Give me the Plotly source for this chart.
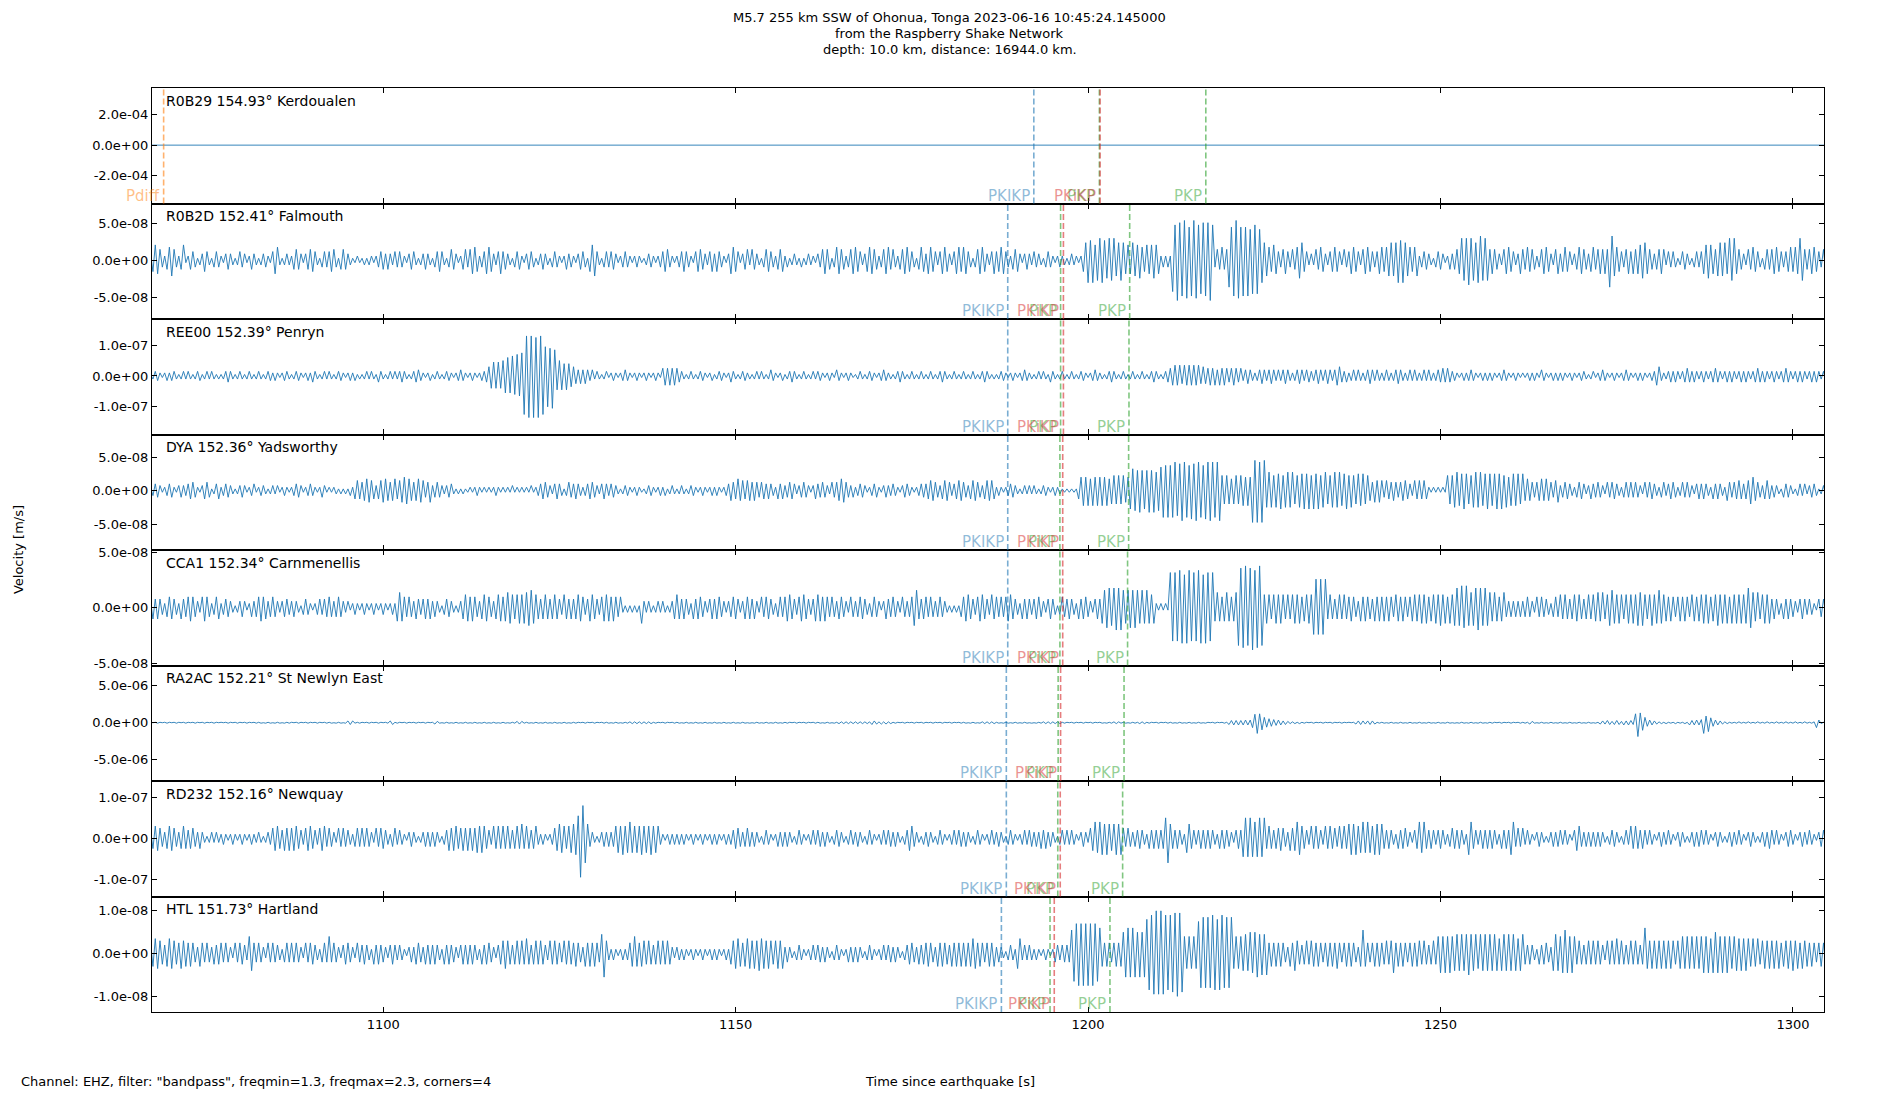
import plotly.graph_objects as go
from plotly.subplots import make_subplots

# textos
title_lines = ["M5.7 255 km SSW of Ohonua, Tonga 2023-06-16 10:45:24.145000",
               "from the Raspberry Shake Network",
               "depth: 10.0 km, distance: 16944.0 km."]
footer_text = 'Channel: EHZ, filter: "bandpass", freqmin=1.3, freqmax=2.3, corners=4'
x_title = "Time since earthquake [s]"
y_title = "Velocity [m/s]"

# estacoes
stations = ["R0B29", "R0B2D", "REE00", "DYA", "CCA1", "RA2AC", "RD232", "HTL"]
distances = [154.93, 152.41, 152.39, 152.36, 152.34, 152.21, 152.16, 151.73]
places = ["Kerdoualen", "Falmouth", "Penryn", "Yadsworthy", "Carnmenellis",
          "St Newlyn East", "Newquay", "Hartland"]

y_ranges = [[-3.84e-4, 3.76e-4], [-7.9e-8, 7.69e-8], [-1.9e-7, 1.85e-7],
            [-8.86e-8, 8.36e-8], [-5.21e-8, 5.24e-8], [-7.85e-6, 7.71e-6],
            [-1.42e-7, 1.40e-7], [-1.366e-8, 1.335e-8]]
y_tick_vals = [[-2e-4, 0, 2e-4], [-5e-8, 0, 5e-8], [-1e-7, 0, 1e-7], [-5e-8, 0, 5e-8],
               [-5e-8, 0, 5e-8], [-5e-6, 0, 5e-6], [-1e-7, 0, 1e-7], [-1e-8, 0, 1e-8]]
y_tick_text = [["-2.0e-04", "0.0e+00", "2.0e-04"], ["-5.0e-08", "0.0e+00", "5.0e-08"],
               ["-1.0e-07", "0.0e+00", "1.0e-07"], ["-5.0e-08", "0.0e+00", "5.0e-08"],
               ["-5.0e-08", "0.0e+00", "5.0e-08"], ["-5.0e-06", "0.0e+00", "5.0e-06"],
               ["-1.0e-07", "0.0e+00", "1.0e-07"], ["-1.0e-08", "0.0e+00", "1.0e-08"]]

x_ticks = [1100, 1150, 1200, 1250, 1300]
x_range = [1067.2, 1304.4]

# chegadas das fases [s]
pkikp = [1192.3, 1188.6, 1188.6, 1188.6, 1188.6, 1188.4, 1188.4, 1187.7]
pkp_1 = [1201.6, 1196.1, 1196.1, 1196.0, 1196.0, 1195.75, 1195.7, 1194.6]
pkikp_refl = [1201.7, 1196.5, 1196.5, 1196.4, 1196.4, 1196.1, 1196.05, 1195.2]
pkp_2 = [1216.7, 1205.9, 1205.8, 1205.75, 1205.6, 1205.1, 1204.9, 1203.1]
pdiff = 1068.85

# sismogramas: amplitude de cada meio ciclo (base 36), 5 s por bloco a partir de t0
t0 = 1067.0
seg_len = 5.0
units = [0, 0.3e-8, 0.05e-7, 0.25e-8, 0.2e-8, 0.06e-6, 0.05e-7, 0.05e-8]

r0b29_t = [1067.0, 1307.0]
r0b29_v = [0.0, 0.0]

r0b2d = ["357653246753247", "124431235421343", "213432124331243", "212332146621232",
         "245431345542134", "345531454321121", "121221234434324", "343213442123432",
         "134542135431245", "356652346653246", "443213442134431", "234321343212433",
         "213443157742134", "344312343212321", "123321234553212", "345432145543245",
         "354321366541345", "254321355432455", "231232131232213", "356541366542356",
         "654235665423566", "453245665431465", "366542466532466", "566431356653246",
         "456643245531343", "243321343212322", "123221258a9a79a", "a98a9a789867687",
         "786576787623232", "egihgihfgihgfhg", "hig354645cfgihf", "gfgefgfea876576",
         "435643546885423", "254653245654253", "466542566543466", "567878a9a876567",
         "234432134431243", "456a9aba98ab9a9", "565432566542365", "465542356653256",
         "356542346654356", "456565cb7654356", "465678865434565", "243431244321343",
         "467876578786a9a", "654325465431454", "566543456566a95", "456654356654365"]

ree00 = ["123321232332123", "232123312323212", "123432123212321", "232123323212332",
         "123321232432123", "232123321232312", "123232143212323", "234321234432123",
         "123212332123432", "123212334689898", "abcbdcedfpqrqrp", "rqpjkilh9a98987",
         "654545434232123", "123212343212321", "232123215656565", "432123212332123",
         "123321243212332", "212323212432123", "123432123212323", "321232143212321",
         "123212332123432", "212343212321232", "123212343212321", "232123212343212",
         "123321232123432", "212323214321232", "123212332123432", "212343212321232",
         "123212343212345", "676757676767565", "565646565456545", "345432345434543",
         "434543234543443", "345434543466434", "234343234543432", "343234543234343",
         "234343234454543", "321232343212323", "232123432123212", "123232143212323",
         "232123212332123", "123432123212343", "212323212336632", "234343234543432",
         "343234543234343", "234343234543432", "343234543234343", "234343234343432"]

dya = ["234431234421343", "345542135541245", "234432123431234", "123321232312321",
       "234431234321243", "121221212132565", "567765356776567", "567887656776457",
       "345432344212121", "121232121212321", "212131212121312", "345543245431354",
       "454323455432454", "344321233212321", "123321232312321", "232123321232123",
       "232123465576656", "656545545432545", "345542345431354", "454325456775434",
       "234431234421343", "343213443212344", "456654356653456", "654356654356665",
       "232123443212323", "232123321232211", "111115898979898", "989789898978bdc",
       "cdcbcdcdbcegfgf", "ghfgihgfhgihgfh", "hihghi989878989", "9898jijhjiaba9a",
       "ab9abab89aabab9", "bab9ab89abab9ab", "9a98a9a89657676", "465565456654365",
       "656521212121989", "ab9aba89abab9ab", "a9abab9a89a9a8a", "676545676765467",
       "345543245542354", "454325455432454", "545432545543245", "345542354543245",
       "454325454326545", "565456886543565", "343214443213434", "234431234421343"]

cca1 = ["354543245543254", "456543256542355", "234432123431243", "456553454323443",
        "343213432123434", "454345432312321", "232123212321232", "676545435434545",
        "343213443212356", "656543566543566", "567765676778876", "545654565436545",
        "456653466543566", "656545212121217", "323212323212356", "545432545543245",
        "455432345542355", "545325455432454", "566543566543466", "656545435543254",
        "345543245431354", "454325434588545", "545434543212121", "456654356654365",
        "545456654325454", "345543245431354", "454325455432454", "789989a9a878989",
        "87878767212121g", "fgfhgfghfgfhgfg", "gfg6765676567hi", "ijhijhijh676567",
        "676565676756676", "cdcdcd565456565", "565436565546565", "656546656545666",
        "676756676867576", "898a9a8789a9898", "767656743434343", "454325454432454",
        "656545666545656", "676756887676567", "676878656867876", "656545656546656",
        "676756686767576", "767679976756767", "454325454432454", "343214443213434"]

ra2ac = ["101110111011101", "110111011101110", "101110111011101", "111011101110111",
         "101110111011101", "111011101444111", "101110111011441", "110111011101110",
         "133101110111011", "101110111011101", "110111333111011", "101110111011101",
         "111011101110111", "101110111222222", "222211101110111", "101110111011101",
         "110111011101110", "101110111011101", "111011101110111", "101110112222222",
         "222222244323232", "211101110111011", "101110111011101", "111011101222222",
         "110111011101110", "101112222222211", "101110111011101", "101112221110111",
         "122211101110111", "101110111011101", "101110111455555", "5656bjokgca9876",
         "654432221211101", "110111011101110", "101344434443111", "101110111011101",
         "110111011101110", "101110111011101", "111011101110111", "113310111011101",
         "110111011101110", "113435434543545", "54kvmhc86543221", "211121112155565",
         "7ofkb8654322111", "121112111211121", "112111211121112", "1112b6211121112"]

rd232 = ["456654356654356", "545543532123232", "232123212321232", "232123356654656",
         "566543566543566", "454325454432454", "545432545543245", "343213432123434",
         "343213465665565", "656576765436565", "656545657565456", "323212356776567",
         "78bjgc743212343", "434676867876768", "676867632123232", "323212321232123",
         "232123234554345", "434321343212434", "343213432123434", "434321344321343",
         "343213432123434", "434321346643213", "343213432123434", "434321343212343",
         "343213432123434", "434354534321343", "434321343256878", "878767878545434",
         "454325454545ac7", "545432775434545", "454325454432454", "9a9a989a9a56545",
         "565436568865436", "565436565546565", "787867878768787", "545432545543245",
         "878545434543245", "545432885434545", "454325454884545", "343213432123434",
         "434321466434343", "434321344321343", "656545434321343", "343213432123434",
         "434321343212343", "343213432123435", "434321344321343", "343213443212343"]

htl = ["567765467765576", "656543654543545", "545432545543885", "454325454432454",
       "545432545543245", "484543245543254", "454325454432454", "343213435543545",
       "454325454432454", "545432545543245", "676545656575456", "565436565546565",
       "5654365656549b6", "323212323568656", "656545656565323", "323212321232123",
       "232123256776567", "767687767656767", "343213432123434", "434321343212434",
       "343213432123434", "434321345543545", "565436565546565", "656567756545656",
       "343213432773434", "323212321244344", "44bdefefefefedc", "656545656abcbcb",
       "ababghijkjkjihi", "ijkji878787fghg", "hgihghighgh7878", "898a9ab9a9a5656",
       "565436586545656", "656545656575456", "565436b65456565", "565695656545656",
       "656545658989898", "898989a98979898", "989878989898789", "545432545543898",
       "89b989856545656", "565436565756545", "656545c76767676", "767656787878787",
       "898979a98989878", "878787676756767", "676756676867576", "656545656545656"]

waves = [None, r0b2d, ree00, dya, cca1, ra2ac, rd232, htl]


def decode(segs, unit):
    t, v = [], []
    sign = 1
    for k, seg in enumerate(segs):
        dt = seg_len / len(seg)
        for i, c in enumerate(seg):
            t.append(t0 + k * seg_len + i * dt)
            v.append(sign * int(c, 36) * unit)
            sign = -sign
    return t, v


font = "DejaVu Sans"
trace_color = "#1f77b4"
phase_colors = {"PKIKP": "rgba(31,119,180,0.6)", "PKiKP": "rgba(214,39,40,0.6)",
                "PKP": "rgba(44,160,44,0.6)", "Pdiff": "rgba(255,127,14,0.6)"}
label_colors = {"PKIKP": "rgba(31,119,180,0.5)", "PKiKP": "rgba(214,39,40,0.5)",
                "PKP": "rgba(44,160,44,0.5)", "Pdiff": "rgba(255,127,14,0.5)"}

n = len(stations)
fig = make_subplots(rows=n, cols=1, shared_xaxes=True, vertical_spacing=0)

for r in range(n):
    if waves[r] is None:
        t, v = r0b29_t, r0b29_v
    else:
        t, v = decode(waves[r], units[r])
    fig.add_trace(go.Scatter(x=t, y=v, mode="lines", line=dict(color=trace_color, width=0.9),
                             showlegend=False, hoverinfo="skip"), row=r + 1, col=1)

    ax = "" if r == 0 else str(r + 1)
    phases = [("PKIKP", pkikp[r]), ("PKP", pkp_1[r]), ("PKiKP", pkikp_refl[r]), ("PKP", pkp_2[r])]
    if r == 0:
        phases = [("Pdiff", pdiff)] + phases
    for name, tp in phases:
        fig.add_shape(type="line", xref="x" + ax, yref="y" + ax + " domain",
                      x0=tp, x1=tp, y0=0, y1=1,
                      line=dict(color=phase_colors[name], width=1.6, dash="6px,3px"))
        fig.add_annotation(x=tp, y=0, xref="x" + ax, yref="y" + ax + " domain",
                           text=name, showarrow=False, xanchor="right", yanchor="bottom",
                           xshift=-3, yshift=-2, borderpad=0,
                           font=dict(family=font, size=15, color=label_colors[name]))

    fig.add_annotation(x=0.007, y=0.975, xref="x" + ax + " domain", yref="y" + ax + " domain",
                       text=f"{stations[r]} {distances[r]:.2f}° {places[r]}", showarrow=False,
                       xanchor="left", yanchor="top", font=dict(family=font, size=14, color="black"))

    fig.update_yaxes(range=y_ranges[r], tickvals=y_tick_vals[r], ticktext=y_tick_text[r],
                     ticks="inside", ticklen=5, tickcolor="black", mirror="ticks",
                     showline=True, linecolor="black", linewidth=1.3,
                     showgrid=False, zeroline=False,
                     tickfont=dict(family=font, size=13, color="black"), row=r + 1, col=1)
    fig.update_xaxes(range=x_range, tickvals=x_ticks, ticks="inside", ticklen=5,
                     tickcolor="black", mirror="ticks", showline=True, linecolor="black",
                     linewidth=1.3, showgrid=False, zeroline=False,
                     tickfont=dict(family=font, size=13, color="black"), row=r + 1, col=1)

# titulo em tres linhas
for line, yp in zip(title_lines, [1.0768, 1.0595, 1.0422]):
    fig.add_annotation(x=0.477, y=yp, xref="paper", yref="paper", text=line,
                       showarrow=False, xanchor="center", yanchor="middle",
                       font=dict(family=font, size=13, color="black"))

fig.add_annotation(x=-0.0801, y=0.5, xref="paper", yref="paper", text=y_title, textangle=-90,
                   showarrow=False, xanchor="center", yanchor="middle",
                   font=dict(family=font, size=13, color="black"))
fig.add_annotation(x=-0.0797, y=-0.0754, xref="paper", yref="paper", text=footer_text,
                   showarrow=False, xanchor="left", yanchor="middle",
                   font=dict(family=font, size=13, color="black"))
fig.add_annotation(x=0.477, y=-0.0754, xref="paper", yref="paper", text=x_title,
                   showarrow=False, xanchor="center", yanchor="middle",
                   font=dict(family=font, size=13, color="black"))

fig.update_layout(
    width=1900, height=1100,
    margin=dict(l=152, r=76, t=88, b=88),
    paper_bgcolor="white", plot_bgcolor="white",
    showlegend=False,
)

fig.write_html("out.html", config={"displayModeBar": False},
               post_script="document.body.style.margin='0px';")
